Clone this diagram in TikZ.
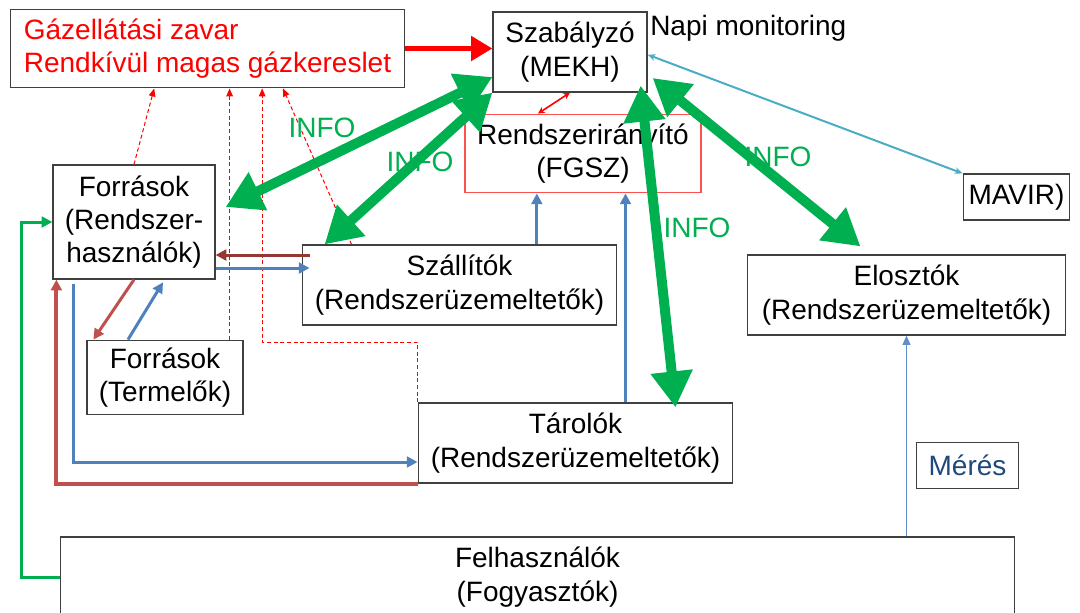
\documentclass[tikz,border=0pt]{standalone}
\usepackage{fontspec}
\setmainfont{Liberation Sans}
\usetikzlibrary{arrows.meta}

\begin{document}
\begin{tikzpicture}[x=0.75pt, y=-0.75pt,
    every node/.style={font=\fontsize{21}{25}\selectfont},
    box/.style={draw=boxline, line width=0.9pt, align=center, inner sep=2pt},
    info/.style={text=infogreen},
    infoarrow/.style={infogreen, line width=7.5pt,
      {Triangle[length=27pt,width=30pt]}-{Triangle[length=27pt,width=30pt]}},
    flow/.style={line width=2.25pt, -{Triangle[length=8pt,width=8pt]}},
    alarm/.style={red, line width=0.75pt, dash pattern=on 3pt off 2pt,
      -{Triangle[length=6pt,width=5pt]}}]
  \definecolor{boxline}{RGB}{64,64,64}
  \definecolor{fgszred}{RGB}{255,80,80}
  \definecolor{infogreen}{RGB}{0,176,80}
  \definecolor{darkred}{RGB}{149,55,53}
  \definecolor{brickred}{RGB}{192,80,77}
  \definecolor{flowblue}{RGB}{79,129,189}
  \definecolor{mavirblue}{RGB}{75,172,198}
  \definecolor{meterblue}{RGB}{100,140,200}
  \definecolor{meresblue}{RGB}{31,73,125}
  \useasboundingbox (0,0) rectangle (1080,612);

  % szereplok
  \node[box, text=red, align=left, minimum width=296pt, minimum height=59pt] (gaz) at (207.5,48.5)
    {Gázellátási zavar\\Rendkívül magas gázkereslet};
  \node[box, minimum width=115.5pt, minimum height=60pt] (mekh) at (570,52) {Szabályzó\\(MEKH)};
  \node[anchor=west, inner sep=0pt] (napi) at (650,28) {Napi monitoring};
  \node[box, draw=fgszred, minimum width=177pt, minimum height=59pt] (fgsz) at (583,153.5)
    {Rendszerirányító\\(FGSZ)};
  \node[box, minimum width=121.5pt, minimum height=85.5pt] (forr) at (134,222)
    {Források\\(Rendszer-\\használók)};
  \node[box, minimum width=236pt, minimum height=60pt] (szall) at (459.5,285)
    {Szállítók\\(Rendszerüzemeltetők)};
  \node[box, minimum width=117pt, minimum height=56pt] (term) at (165,377.5) {Források\\(Termelők)};
  \node[box, minimum width=236pt, minimum height=60pt] (tarol) at (575.5,443)
    {Tárolók\\(Rendszerüzemeltetők)};
  \node[box, minimum width=238pt, minimum height=60pt] (eloszt) at (906.5,295)
    {Elosztók\\(Rendszerüzemeltetők)};
  \node[box, minimum width=80pt, minimum height=34.5pt] (mavir) at (1016.5,197) {MAVIR)};
  \node[box, text=meresblue, minimum width=76pt, minimum height=34pt] (meres) at (967.5,465.5) {Mérés};
  \node[box, minimum width=716pt, minimum height=60pt] (felh) at (537.5,577)
    {Felhasználók\\(Fogyasztók)};

  % riasztas
  \draw[alarm] (forr.north) -- ([xshift=-40pt]gaz.south);
  \draw[alarm] ([xshift=-10.5pt]term.north east) -- ([xshift=-10.5pt]term.north east |- gaz.south);
  \draw[alarm] (tarol.north west) -- ++(0,-60) -| ([xshift=41pt]gaz.south);
  \draw[alarm] ([xshift=37.5pt]szall.north west) -- ([xshift=56.6pt]gaz.south);
  \draw[red, line width=3.75pt, -{Triangle[length=16pt,width=18pt]}] (gaz.east) -- (gaz.east -| mekh.west);
  \draw[red, line width=1.2pt, {Stealth[length=5pt,width=5pt]}-{Stealth[length=5pt,width=5pt]}]
    (mekh.south) -- ([xshift=-33.75pt]fgsz.north);

  % gazaramlas
  \coordinate (sz1) at ([xshift=6pt,yshift=22.5pt]szall.west);
  \coordinate (fo1) at ([yshift=-34.5pt]forr.east);
  \draw[flow, darkred] (sz1) -- (sz1 -| forr.east);
  \draw[flow, flowblue] (fo1) -- ([xshift=6pt]fo1 -| szall.west);
  \draw[flow, brickred] (forr.south) -- ([xshift=5.25pt]term.north west);
  \draw[flow, flowblue] ([xshift=-27.75pt]term.north) -- ([xshift=21.75pt,yshift=-2pt]forr.south);
  \draw[flow, flowblue] ([xshift=-45.75pt,yshift=-3pt]forr.south) |- ([yshift=-14.25pt]tarol.west);
  \draw[flow, brickred, line width=3pt] (tarol.south west) -| ([xshift=3pt]forr.south west);
  \draw[flow, flowblue] ([xshift=58pt]szall.north) -- ([xshift=58pt]szall.north |- fgsz.south);
  \draw[flow, flowblue] ([xshift=37.5pt]tarol.north) -- ([xshift=37.5pt]tarol.north |- fgsz.south);
  \draw[meterblue, line width=0.9pt, -{Triangle[length=7pt,width=6pt]}]
    (felh.north -| eloszt.south) -- (eloszt.south);
  \draw[infogreen, line width=2.25pt, -{Triangle[length=8pt,width=8pt]}]
    (felh.west) -- ++(-38,0) |- (forr.west);
  \draw[mavirblue, line width=1.5pt, {Stealth[length=6pt,width=5pt]}-{Stealth[length=6pt,width=5pt]}]
    ([yshift=-2pt]mekh.east) -- (mavir.north west);

  % info
  \draw[infoarrow] ([yshift=-18.75pt]mekh.west) -- ([xshift=7.5pt,yshift=11.25pt]forr.east);
  \draw[infoarrow] (mekh.south west) -- ([xshift=17.25pt]szall.north west);
  \draw[infoarrow] ([xshift=-5.25pt,yshift=5.25pt]mekh.south east) -- ([xshift=75pt,yshift=-3.75pt]tarol.north);
  \draw[infoarrow] ([xshift=3.75pt,yshift=-19.5pt]mekh.east) -- ([xshift=-34.5pt,yshift=6pt]eloszt.north);
  \node[info] (info1) at (322,128) {INFO};
  \node[info] (info2) at (420,162) {INFO};
  \node[info] (info3) at (697,228) {INFO};
  \node[info] (info4) at (778,157) {INFO};
\end{tikzpicture}
\end{document}
